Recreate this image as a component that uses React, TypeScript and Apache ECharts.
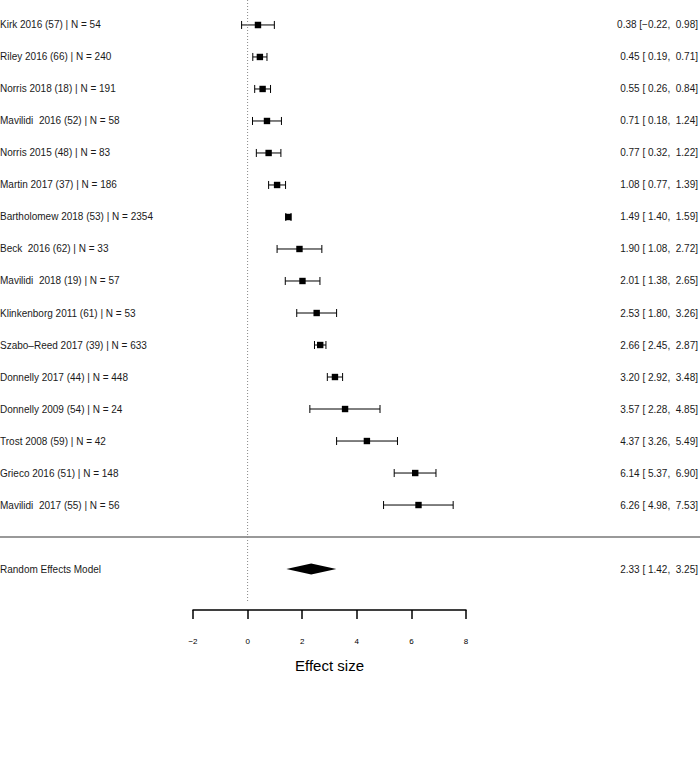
import React, { useEffect, useRef } from "react";
import * as echarts from "echarts";

// Individual studies, top to bottom
const studies = [
  "Kirk 2016 (57)",
  "Riley 2016 (66)",
  "Norris 2018 (18)",
  "Mavilidi  2016 (52)",
  "Norris 2015 (48)",
  "Martin 2017 (37)",
  "Bartholomew 2018 (53)",
  "Beck  2016 (62)",
  "Mavilidi  2018 (19)",
  "Klinkenborg 2011 (61)",
  "Szabo\u2013Reed 2017 (39)",
  "Donnelly 2017 (44)",
  "Donnelly 2009 (54)",
  "Trost 2008 (59)",
  "Grieco 2016 (51)",
  "Mavilidi  2017 (55)",
];
const sampleSizes = [54, 240, 191, 58, 83, 186, 2354, 33, 57, 53, 633, 448, 24, 42, 148, 56];
const effects = [0.38, 0.45, 0.55, 0.71, 0.77, 1.08, 1.49, 1.9, 2.01, 2.53, 2.66, 3.2, 3.57, 4.37, 6.14, 6.26];
const lowers = [-0.22, 0.19, 0.26, 0.18, 0.32, 0.77, 1.4, 1.08, 1.38, 1.8, 2.45, 2.92, 2.28, 3.26, 5.37, 4.98];
const uppers = [0.98, 0.71, 0.84, 1.24, 1.22, 1.39, 1.59, 2.72, 2.65, 3.26, 2.87, 3.48, 4.85, 5.49, 6.9, 7.53];

// Pooled estimate
const modelLabel = "Random Effects Model";
const modelEffect = 2.33;
const modelLower = 1.42;
const modelUpper = 3.25;

const xTicks = { min: -2, max: 8, step: 2 };

const FONT = "'Liberation Sans', Arial, Helvetica, sans-serif";
const TEXT_COLOR = "#1a1a1a";
const LABEL_FONT = `10px ${FONT}`;

const fmt = (v: number) => v.toFixed(2).replace("-", "\u2212");
const fmtPad = (v: number) => (v < 0 ? fmt(v) : " " + fmt(v));
const ciText = (e: number, lo: number, hi: number) =>
  `${fmt(e)} [${fmtPad(lo)}, ${fmtPad(hi)}]`;

const studyRows = studies.map((s, i) => [
  i,
  effects[i],
  lowers[i],
  uppers[i],
  `${s} | N = ${sampleSizes[i]}`,
  ciText(effects[i], lowers[i], uppers[i]),
]);
const separatorRow = studies.length;
const modelRow = studies.length + 1;

export default function App() {
  const ref = useRef<HTMLDivElement>(null);

  useEffect(() => {
    if (!ref.current) return;
    const chart = echarts.init(ref.current, null, { renderer: "svg" });

    const option: any = {
      animation: false,
      backgroundColor: "#ffffff",
      grid: { left: 193, right: 234, top: 0, bottom: 149 },
      xAxis: {
        type: "value",
        position: "bottom",
        min: xTicks.min,
        max: xTicks.max,
        interval: xTicks.step,
        splitLine: { show: false },
        axisLine: { show: true, onZero: false, lineStyle: { color: "#000", width: 1.5 } },
        axisTick: { show: true, length: 9, lineStyle: { color: "#000", width: 1.5 } },
        axisLabel: {
          margin: 27,
          fontSize: 8,
          color: "#000",
          fontFamily: FONT,
          formatter: (v: number) => String(v).replace("-", "\u2212"),
        },
        name: "Effect size",
        nameLocation: "middle",
        nameGap: 48,
        nameTextStyle: { fontSize: 15, color: "#000", fontFamily: FONT },
      },
      yAxis: {
        type: "value",
        inverse: true,
        min: -0.78,
        max: 18.28,
        show: false,
      },
      series: [
        {
          // dotted reference line at zero effect
          type: "line",
          data: [
            [0, -0.78],
            [0, 18.05],
          ],
          symbol: "none",
          lineStyle: { color: "#888", width: 1, type: [1, 2] },
          silent: true,
        },
        {
          // horizontal separator above the pooled estimate
          type: "custom",
          data: [[separatorRow]],
          clip: false,
          renderItem: (params: any, api: any) => {
            const y = api.coord([0, api.value(0)])[1];
            return {
              type: "line",
              shape: { x1: 0, y1: y, x2: api.getWidth(), y2: y },
              style: { stroke: "#777", lineWidth: 1.5 },
            };
          },
        },
        {
          // study estimates with confidence intervals and labels
          type: "custom",
          data: studyRows,
          clip: false,
          renderItem: (params: any, api: any) => {
            const row = api.value(0);
            const [cx, cy] = api.coord([api.value(1), row]);
            const lo = api.coord([api.value(2), row])[0];
            const hi = api.coord([api.value(3), row])[0];
            const d = studyRows[params.dataIndex];
            const cap = 4;
            const sq = 3.2;
            return {
              type: "group",
              children: [
                {
                  type: "line",
                  shape: { x1: lo, y1: cy, x2: hi, y2: cy },
                  style: { stroke: "#000", lineWidth: 1 },
                },
                {
                  type: "line",
                  shape: { x1: lo, y1: cy - cap, x2: lo, y2: cy + cap },
                  style: { stroke: "#000", lineWidth: 1 },
                },
                {
                  type: "line",
                  shape: { x1: hi, y1: cy - cap, x2: hi, y2: cy + cap },
                  style: { stroke: "#000", lineWidth: 1 },
                },
                {
                  type: "rect",
                  shape: { x: cx - sq, y: cy - sq, width: sq * 2, height: sq * 2 },
                  style: { fill: "#000" },
                },
                {
                  type: "text",
                  x: 0,
                  y: cy,
                  style: {
                    text: d[4] as string,
                    fill: TEXT_COLOR,
                    font: LABEL_FONT,
                    textAlign: "left",
                    textVerticalAlign: "middle",
                  },
                },
                {
                  type: "text",
                  x: api.getWidth() - 2,
                  y: cy,
                  style: {
                    text: d[5] as string,
                    fill: TEXT_COLOR,
                    font: LABEL_FONT,
                    textAlign: "right",
                    textVerticalAlign: "middle",
                  },
                },
              ],
            };
          },
        },
        {
          // pooled random-effects estimate drawn as a diamond
          type: "custom",
          data: [[modelRow, modelEffect, modelLower, modelUpper]],
          clip: false,
          renderItem: (params: any, api: any) => {
            const row = api.value(0);
            const [cx, cy] = api.coord([api.value(1), row]);
            const lo = api.coord([api.value(2), row])[0];
            const hi = api.coord([api.value(3), row])[0];
            const h = 5.5;
            return {
              type: "group",
              children: [
                {
                  type: "polygon",
                  shape: {
                    points: [
                      [lo, cy],
                      [cx, cy - h],
                      [hi, cy],
                      [cx, cy + h],
                    ],
                  },
                  style: { fill: "#000" },
                },
                {
                  type: "text",
                  x: 0,
                  y: cy,
                  style: {
                    text: modelLabel,
                    fill: TEXT_COLOR,
                    font: LABEL_FONT,
                    textAlign: "left",
                    textVerticalAlign: "middle",
                  },
                },
                {
                  type: "text",
                  x: api.getWidth() - 2,
                  y: cy,
                  style: {
                    text: ciText(modelEffect, modelLower, modelUpper),
                    fill: TEXT_COLOR,
                    font: LABEL_FONT,
                    textAlign: "right",
                    textVerticalAlign: "middle",
                  },
                },
              ],
            };
          },
        },
      ],
    };

    chart.setOption(option);
    return () => chart.dispose();
  }, []);

  return (
    <div
      ref={ref}
      style={{ position: "absolute", left: 0, top: 0, width: 700, height: 759 }}
    />
  );
}
